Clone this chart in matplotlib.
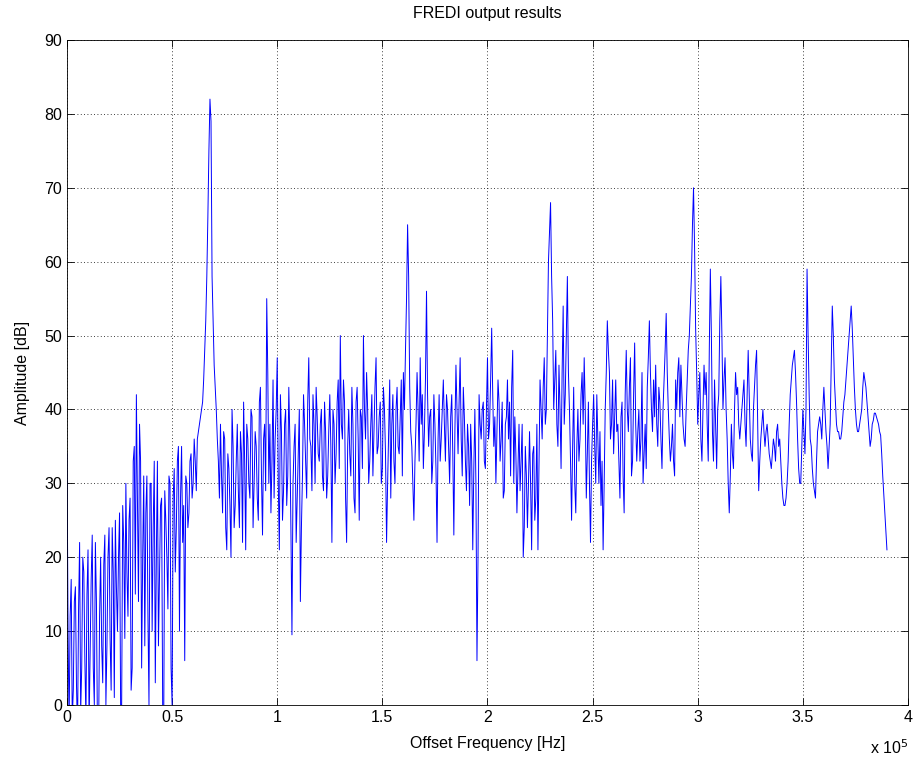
import numpy as np
import matplotlib
matplotlib.use('Agg')
import matplotlib.pyplot as plt

plt.rcParams['font.family'] = ['Liberation Sans', 'DejaVu Sans']

# spectrum, values at whole kHz from 0 to 390 kHz
amp_db = [
    34, -3, 17, 2, 16, -4, 22, 5, 18, -2,
    21, 7, 23, 0, 14, -5, 20, 3, 23, 8,
    24, 2, 18, 25, 10, 26, 0, 22, 30, 12,
    28, 5, 35, 42, 14, 33, 20, 8, 31, 0,
    30, 24, 3, 33, 18, 28, -3, 25, 13, 30,
    0, 32, 24, 35, 28, 22, 6, 30, 26, 34,
    30, 33, 36, 38, 40, 44, 52, 66, 82, 58,
    46, 40, 33, 38, 26, 36, 21, 32, 20, 35,
    27, 38, 24, 34, 41, 21, 36, 28, 39, 30,
    35, 25, 43, 23, 38, 55, 30, 26, 44, 36,
    47, 21, 37, 29, 40, 31, 36, 9.5, 35, 22,
    34, 14, 31, 38, 28, 47, 35, 42, 30, 39,
    33, 40, 29, 37, 31, 42, 22, 38, 34, 44,
    50, 36, 41, 22, 40, 31, 38, 26, 43, 25,
    39, 50, 36, 40, 33, 42, 37, 47, 35, 41,
    32, 40, 22, 37, 28, 42, 30, 43, 34, 44,
    45, 48, 65, 43, 35, 25, 38, 40, 47, 42,
    37, 56, 35, 40, 33, 38, 22, 42, 36, 44,
    33, 40, 30, 42, 23, 46, 34, 47, 31, 39,
    29, 35, 38, 21, 40, 6, 42, 36, 41, 32,
    47, 38, 51, 35, 30, 44, 33, 41, 29, 39,
    36, 31, 48, 39, 26, 38, 33, 20, 35, 24,
    37, 21, 35, 28, 21, 44, 36, 47, 40, 60,
    68, 52, 44, 38, 46, 32, 54, 42, 58, 40,
    25, 43, 26, 40, 36, 45, 47, 28, 41, 22,
    38, 35, 42, 30, 27, 21, 40, 52, 45, 38,
    34, 44, 38, 28, 41, 26, 48, 37, 47, 33,
    49, 33, 40, 36, 30, 38, 43, 52, 40, 44,
    46, 35, 41, 32, 44, 53, 40, 33, 38, 31,
    40, 47, 46, 38, 35, 44, 50, 58, 70, 51,
    38, 45, 33, 46, 45, 33, 59, 37, 44, 32,
    42, 58, 40, 47, 36, 26, 38, 32, 45, 43,
    36, 40, 44, 35, 48, 36, 33, 43, 48, 29,
    36, 40, 35, 38, 34, 32, 36, 33, 38, 36,
    30, 27, 28, 33, 42, 46, 48, 41, 32, 30,
    40, 34, 59, 42, 35, 30, 28, 37, 39, 36,
    43, 37, 32, 38, 54, 44, 38, 37, 36, 39,
    42, 46, 50, 54, 47, 40, 37, 38, 40, 45,
    43, 39, 35, 38, 39.5, 39, 38, 36.5, 31, 26,
    21,
]

# values in between, at 0.5, 1.5, ... 389.5 kHz
amp_db_half = [
    10, 12, -2, 14, 3, 13, -1, 20, 6, 15,
    -3, 17, 5, 22, -4, 12, 8, 19, 0, 20,
    9, 24, 1, 16, 20, 0, 27, 9, 18, 25,
    2, 33, 15, 28, 38, 5, 31, 26, 12, 30,
    10, 33, 20, 8, 27, 0, 29, 20, 31, 5,
    28, 18, 33, 10, 35, 27, 31, 24, 33, 28,
    36, 29, 37, 39, 41, 48, 58, 75, 79, 52,
    43, 36, 28, 31, 37, 24, 34, 27, 40, 24,
    33, 29, 37, 22, 33, 38, 30, 40, 24, 37,
    28, 41, 31, 36, 29, 45, 38, 33, 28, 40,
    30, 42, 25, 38, 27, 43, 24, 30, 38, 28,
    40, 24, 42, 33, 41, 36, 29, 38, 43, 34,
    38, 31, 41, 28, 37, 35, 40, 30, 41, 32,
    38, 44, 28, 35, 34, 43, 28, 41, 36, 40,
    32, 40, 45, 30, 38, 31, 43, 34, 39, 30,
    43, 34, 30, 44, 38, 33, 40, 35, 39, 31,
    40, 55, 58, 37, 30, 33, 45, 33, 38, 32,
    44, 42, 39, 30, 42, 32, 36, 33, 40, 38,
    42, 35, 39, 34, 37, 40, 41, 36, 43, 33,
    38, 27, 33, 32, 30, 20, 38, 40, 33, 40,
    36, 44, 42, 39, 37, 41, 36, 28, 38, 44,
    41, 43, 30, 34, 32, 29, 38, 24, 31, 30,
    30, 34, 25, 38, 33, 40, 43, 38, 50, 64,
    58, 40, 48, 35, 40, 45, 38, 50, 45, 33,
    35, 30, 35, 33, 42, 38, 40, 34, 30, 33,
    42, 30, 36, 37, 33, 30, 45, 48, 36, 44,
    39, 37, 33, 39, 31, 42, 40, 43, 31, 42,
    38, 37, 33, 45, 34, 32, 47, 45, 37, 39,
    38, 43, 36, 40, 48, 45, 36, 35, 33, 44,
    45, 39, 42, 36, 40, 48, 54, 65, 62, 45,
    42, 36, 40, 42, 38, 48, 50, 33, 38, 40,
    52, 50, 44, 40, 30, 31, 34, 40, 42, 38,
    38, 42, 38, 42, 42, 34, 40, 46, 38, 33,
    38, 37, 37, 36, 33, 34, 35, 37, 35, 33,
    28, 27, 30, 38, 44, 47, 45, 36, 30, 35,
    37, 40, 50, 36, 32, 29, 33, 38, 38, 40,
    40, 35, 35, 46, 50, 41, 37, 36, 37, 41,
    44, 48, 52, 51, 43, 38, 37, 39, 43, 44,
    41, 37, 36, 38.5, 39.5, 38.5, 37, 34, 28.5, 23.5,
]

freq_whole = np.arange(len(amp_db)) * 1000.0
freq_half = np.arange(len(amp_db_half)) * 1000.0 + 500.0
freq_hz = np.concatenate([freq_whole, freq_half])
amp = np.concatenate([amp_db, amp_db_half])
order = np.argsort(freq_hz)
freq_hz = freq_hz[order]
amp = amp[order]

fig = plt.figure(figsize=(9.14, 7.61), dpi=100)
ax = fig.add_axes([0.0733, 0.0736, 0.9201, 0.8738])
ax.plot(freq_hz, amp, color=(0, 0, 1), linewidth=0.7)

ax.set_xlim(0, 4e5)
ax.set_ylim(0, 90)
ax.set_xticks(np.arange(0, 4.01e5, 0.5e5))
ax.set_xticklabels(['0', '0.5', '1', '1.5', '2', '2.5', '3', '3.5', '4'])
ax.set_yticks(np.arange(0, 91, 10))
ax.tick_params(direction='in', top=True, right=True, labelsize=11.5, length=5, width=0.6)
ax.grid(True, color='black', linestyle=(0, (1, 3)), linewidth=0.6)
for s in ax.spines.values():
    s.set_linewidth(0.6)

ax.set_title('FREDI output results', fontsize=11.5, pad=16)
ax.set_xlabel('Offset Frequency [Hz]', fontsize=11.5, labelpad=8)
ax.set_ylabel('Amplitude [dB]', fontsize=11.5, labelpad=10)
ax.text(1.0, -0.05, r'x 10$^5$', transform=ax.transAxes, ha='right', va='top', fontsize=11.5)

fig.savefig('out.png', dpi=100)
